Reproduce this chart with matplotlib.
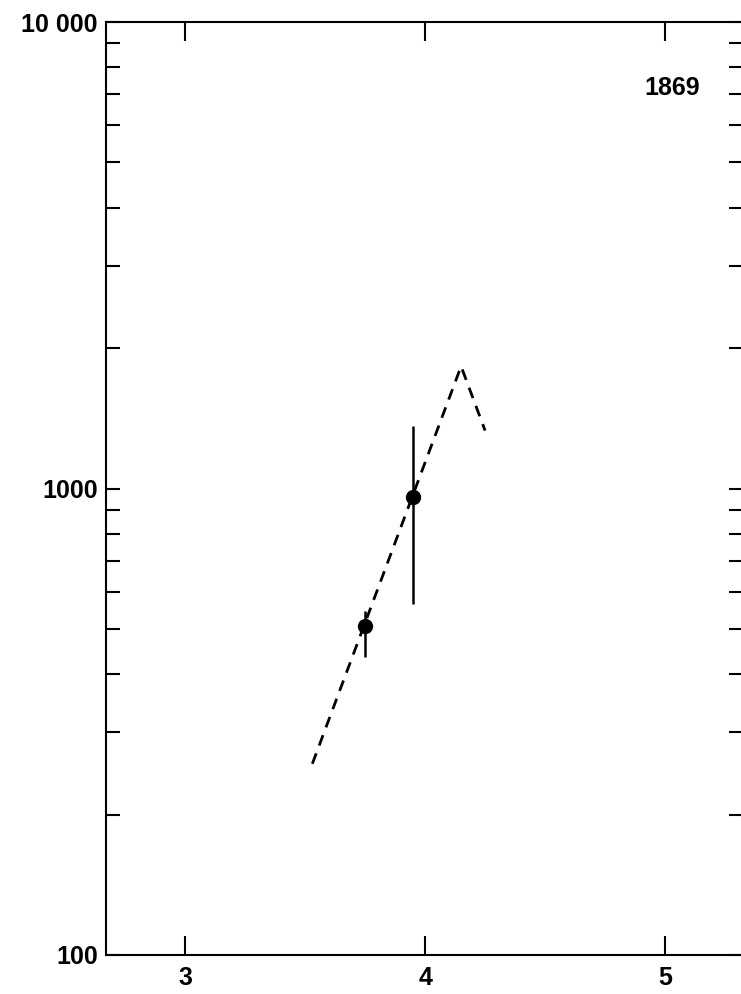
import matplotlib
matplotlib.use("Agg")
import matplotlib.pyplot as plt
from matplotlib.ticker import FixedLocator, NullFormatter, FixedFormatter

# data
pts_x = [3.75, 3.95]
pts_y = [508, 957]
err_lo = [436, 566]
err_hi = [545, 1359]

line_x = [3.53, 4.15, 4.25]
line_y = [257, 1828, 1331]

xticks = [3, 4, 5]
yticks = [100, 1000, 10000]
ylabels = ['100', '1000', '10 000']
yminor = [200, 300, 400, 500, 600, 700, 800, 900,
          2000, 3000, 4000, 5000, 6000, 7000, 8000, 9000]

plt.rcParams['font.family'] = ['Liberation Sans', 'DejaVu Sans']

fig = plt.figure(figsize=(7.41, 9.94), dpi=100)
W, H = 741, 994
ax = fig.add_axes([106 / W, 1 - 955 / H, (743 - 106) / W, (955 - 22) / H])

ax.set_yscale('log')
ax.set_xlim(2.67, 5.325)
ax.set_ylim(100, 10000)

ax.plot(line_x, line_y, color='black', lw=2.0, dashes=(4, 3))
yerr = [[y - lo for y, lo in zip(pts_y, err_lo)],
        [hi - y for y, hi in zip(pts_y, err_hi)]]
ax.errorbar(pts_x, pts_y, yerr=yerr, fmt='o', color='black', ms=10,
            elinewidth=1.8, capsize=0)

ax.text(5.03, 7230, '1869', ha='center', va='center', fontsize=18,
        fontweight='bold')

ax.xaxis.set_major_locator(FixedLocator(xticks))
ax.set_xticklabels([str(t) for t in xticks])
ax.yaxis.set_major_locator(FixedLocator(yticks))
ax.yaxis.set_major_formatter(FixedFormatter(ylabels))
ax.yaxis.set_minor_locator(FixedLocator(yminor))
ax.yaxis.set_minor_formatter(NullFormatter())
ax.xaxis.set_minor_locator(FixedLocator([]))

ax.tick_params(axis='x', which='major', direction='in', length=14, width=1.5,
               top=True, bottom=True, labelsize=18, pad=8)
ax.tick_params(axis='y', which='both', direction='in', length=10, width=1.5,
               left=True, right=True, labelsize=18, pad=6)
for lab in ax.get_xticklabels() + ax.get_yticklabels():
    lab.set_fontweight('bold')
for s in ax.spines.values():
    s.set_linewidth(1.5)

fig.savefig('out.png', dpi=100)
